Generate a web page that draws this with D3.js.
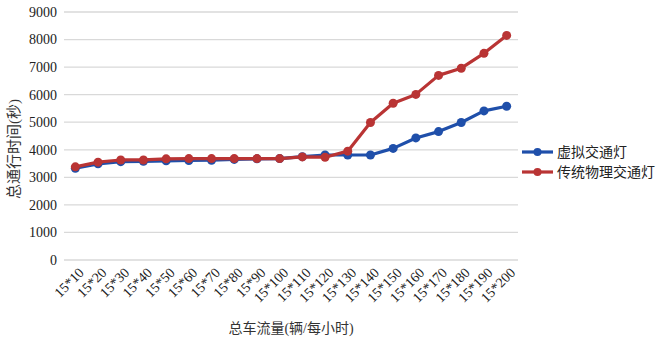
<!DOCTYPE html>
<html>
<head>
<meta charset="utf-8">
<script src="https://cdn.jsdelivr.net/npm/d3@7"></script>
<style>
	body { margin: 0; background: #fff; }
</style>
</head>
<body>
<div id="chart"></div>
<script>
var categories = ['15*10', '15*20', '15*30', '15*40', '15*50', '15*60', '15*70', '15*80', '15*90', '15*100',
	'15*110', '15*120', '15*130', '15*140', '15*150', '15*160', '15*170', '15*180', '15*190', '15*200'];
var virtualLight = [3330, 3490, 3570, 3580, 3600, 3610, 3620, 3650, 3670, 3680,
	3750, 3810, 3810, 3810, 4050, 4430, 4660, 4990, 5410, 5580];
var physicalLight = [3380, 3550, 3630, 3630, 3670, 3680, 3680, 3680, 3680, 3680,
	3740, 3730, 3950, 4990, 5690, 6010, 6700, 6960, 7500, 8150];
var seriesNames = ['虚拟交通灯', '传统物理交通灯'];
var yTicks = [0, 1000, 2000, 3000, 4000, 5000, 6000, 7000, 8000, 9000];

var width = 661,
	height = 340;
var margin = {
	left: 64,
	top: 12,
	right: 143,
	bottom: 80
};
var colors = ['#1f4faa', '#b93434'];
var fontFamily = "'Liberation Serif', 'DejaVu Serif', 'Noto Sans CJK SC', serif";

var svg = d3.select('#chart').append('svg')
	.attr('width', width)
	.attr('height', height)
	.style('font-family', fontFamily);

var xScale = d3.scaleBand()
	.domain(categories)
	.range([margin.left, width - margin.right]);

var yScale = d3.scaleLinear()
	.domain([0, 9000])
	.range([height - margin.bottom, margin.top]);

// 网格线
svg.append('g')
	.selectAll('line')
	.data(yTicks)
	.enter()
	.append('line')
	.attr('x1', margin.left)
	.attr('x2', width - margin.right)
	.attr('y1', d => yScale(d))
	.attr('y2', d => yScale(d))
	.attr('stroke', '#d9d9d9')
	.attr('stroke-width', 1.3);

// y轴刻度
svg.append('g')
	.selectAll('text')
	.data(yTicks)
	.enter()
	.append('text')
	.attr('x', margin.left - 7)
	.attr('y', d => yScale(d))
	.attr('dy', '0.35em')
	.attr('text-anchor', 'end')
	.style('font-size', '14px')
	.attr('fill', '#222')
	.text(String);

// x轴刻度
svg.append('g')
	.selectAll('text')
	.data(categories)
	.enter()
	.append('text')
	.attr('transform', d => 'translate(' + (xScale(d) + xScale.bandwidth() / 2 + 6) + ',' + (yScale(0) + 10) + ') rotate(-45)')
	.attr('text-anchor', 'end')
	.attr('dy', '0.35em')
	.style('font-size', '14px')
	.attr('fill', '#222')
	.text(String);

// 轴标题
svg.append('text')
	.attr('transform', 'translate(14,149) rotate(-90)')
	.attr('text-anchor', 'middle')
	.attr('dy', '0.35em')
	.style('font-size', '15px')
	.attr('fill', '#333')
	.text('总通行时间(秒)');

svg.append('text')
	.attr('x', (margin.left + width - margin.right) / 2)
	.attr('y', 333)
	.attr('text-anchor', 'middle')
	.style('font-size', '14px')
	.attr('fill', '#333')
	.text('总车流量(辆/每小时)');

var line = d3.line()
	.x((d, i) => xScale(categories[i]) + xScale.bandwidth() / 2)
	.y(d => yScale(d));

[virtualLight, physicalLight].forEach((values, k) => {
	let g = svg.append('g');
	g.append('path')
		.datum(values)
		.attr('d', line)
		.attr('fill', 'none')
		.attr('stroke', colors[k])
		.attr('stroke-width', 3.2)
		.attr('stroke-linejoin', 'round');
	g.selectAll('circle')
		.data(values)
		.enter()
		.append('circle')
		.attr('cx', (d, i) => xScale(categories[i]) + xScale.bandwidth() / 2)
		.attr('cy', d => yScale(d))
		.attr('r', 4.5)
		.attr('fill', colors[k]);
});

// 图例
var legend = svg.append('g')
	.selectAll('g')
	.data(seriesNames)
	.enter()
	.append('g')
	.attr('transform', (d, i) => 'translate(522,' + (152 + i * 20) + ')');
legend.append('line')
	.attr('x1', 0)
	.attr('x2', 31)
	.attr('stroke', (d, i) => colors[i])
	.attr('stroke-width', 3.2);
legend.append('circle')
	.attr('cx', 15.5)
	.attr('r', 4)
	.attr('fill', (d, i) => colors[i]);
legend.append('text')
	.attr('x', 35)
	.attr('dy', '0.35em')
	.style('font-size', '14px')
	.attr('fill', '#222')
	.text(String);
</script>
</body>
</html>
